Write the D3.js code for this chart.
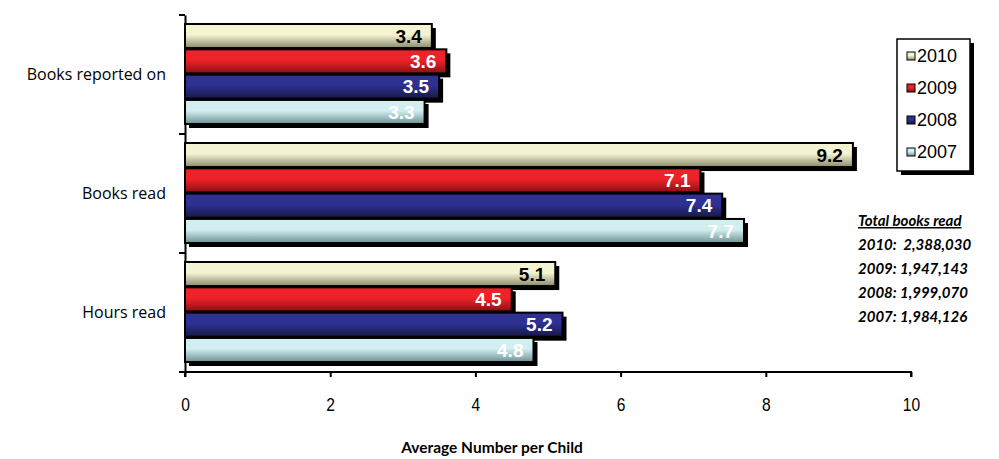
<!DOCTYPE html>
<html><head><meta charset="utf-8">
<script src="https://cdn.jsdelivr.net/npm/d3@7"></script>
<style>body{margin:0;background:#fff}svg{display:block}</style>
</head><body>
<svg id="c" width="999" height="459"></svg>
<script>
const categories = ["Books reported on", "Books read", "Hours read"];
const years = ["2010", "2009", "2008", "2007"];
const v2010 = [3.4, 9.2, 5.1];
const v2009 = [3.6, 7.1, 4.5];
const v2008 = [3.5, 7.4, 5.2];
const v2007 = [3.3, 7.7, 4.8];
const xTicks = [0, 2, 4, 6, 8, 10];
const totalsTitle = "Total books read";
const totals = ["2010:  2,388,030", "2009: 1,947,143", "2008: 1,999,070", "2007: 1,984,126"];
const axisTitle = "Average Number per Child";

(function(){
const series = [v2010, v2009, v2008, v2007];
const colors = [
  {top:"#f4f4d2", bot:"#8a8a6c", text:"#000"},
  {top:"#ee2229", bot:"#8a1014", text:"#fff"},
  {top:"#2e3192", bot:"#161845", text:"#fff"},
  {top:"#d2eef0", bot:"#6c9294", text:"#fff"}
];

const svg = d3.select("#c");
const defs = svg.append("defs");
colors.forEach((c,i)=>{
  const g = defs.append("linearGradient").attr("id","g"+i).attr("x1",0).attr("y1",0).attr("x2",0).attr("y2",1);
  g.append("stop").attr("offset","0%").attr("stop-color",c.top);
  g.append("stop").attr("offset","45%").attr("stop-color",c.top);
  g.append("stop").attr("offset","100%").attr("stop-color",c.bot);
});

const pl = 185, pr = 911, pt = 15, pb = 372;
const x = d3.scaleLinear().domain([0,10]).range([pl,pr]);
const y = d3.scaleBand().domain(categories).range([pt,pb]);
const yi = d3.scaleBand().domain(years).range([9, 109]).paddingInner(0.05);

const xAxis = svg.append("g").attr("transform",`translate(0,${pb})`)
  .call(d3.axisBottom(x).tickValues(xTicks).tickSize(5).tickPadding(21).tickFormat(d3.format("d")));
xAxis.select(".domain").attr("stroke","#000").attr("stroke-width",2).attr("d",`M${pl},5V0H${pr}V5`);
xAxis.selectAll(".tick line").attr("stroke","#000").attr("stroke-width",2);
xAxis.selectAll(".tick text").attr("font-family","Liberation Sans, Arial, sans-serif").attr("font-size",19)
  .attr("fill","#000").attr("transform","scale(0.82,1)");

const yAxis = svg.append("g").attr("transform",`translate(${pl},0)`)
  .call(d3.axisLeft(y).tickSize(0).tickPadding(19));
yAxis.select(".domain").attr("stroke","#000").attr("stroke-width",2);
yAxis.selectAll(".tick text").attr("font-family","'Open Sans', sans-serif").attr("font-size",16).attr("fill","#000");
const bounds = [pt].concat(categories.map(c=>y(c)+y.bandwidth()));
svg.append("g").selectAll("line").data(bounds).join("line")
  .attr("x1",pl-6).attr("x2",pl).attr("y1",d=>d).attr("y2",d=>d)
  .attr("stroke","#000").attr("stroke-width",2);

const gb = svg.append("g");
categories.forEach((cat,ci)=>{
  years.forEach((yr,si)=>{
    const val = series[si][ci];
    const by = y(cat)+yi(yr), bh = yi.bandwidth();
    gb.append("rect").attr("x",x(0)+4).attr("y",by+4).attr("width",x(val)-x(0)).attr("height",bh).attr("fill","#000");
  });
});
categories.forEach((cat,ci)=>{
  years.forEach((yr,si)=>{
    const val = series[si][ci];
    const by = y(cat)+yi(yr), bh = yi.bandwidth();
    gb.append("rect").attr("x",x(0)).attr("y",by).attr("width",x(val)-x(0)).attr("height",bh)
      .attr("fill",`url(#g${si})`).attr("stroke","#000").attr("stroke-width",2);
    gb.append("text").attr("x",x(val)-10).attr("y",by+bh/2).attr("dy","0.36em")
      .attr("text-anchor","end").attr("font-family","Liberation Sans, Arial, sans-serif")
      .attr("font-weight","bold").attr("font-size",19).attr("fill",colors[si].text).text(d3.format(".1f")(val));
  });
});

const lx = 897, ly = 39, lw = 73, lh = 132;
svg.append("rect").attr("x",lx+4).attr("y",ly+4).attr("width",lw).attr("height",lh).attr("fill","#000");
svg.append("rect").attr("x",lx).attr("y",ly).attr("width",lw).attr("height",lh).attr("fill","#fff").attr("stroke","#000").attr("stroke-width",1.5);
years.forEach((yr,i)=>{
  const cy = ly + 17 + i*32;
  svg.append("rect").attr("x",lx+10).attr("y",cy-4).attr("width",8).attr("height",8)
    .attr("fill",`url(#g${i})`).attr("stroke","#000").attr("stroke-width",1);
  svg.append("text").attr("x",lx+20).attr("y",cy).attr("dy","0.36em")
    .attr("font-family","Liberation Sans, Arial, sans-serif").attr("font-size",18).attr("fill","#000").text(yr);
});

const ax = 858;
svg.append("text").attr("x",ax).attr("y",226).attr("font-family","Lato, 'Open Sans', sans-serif")
  .attr("font-weight","bold").attr("font-style","italic").attr("font-size",15).attr("text-decoration","underline")
  .attr("fill","#000").text(totalsTitle);
totals.forEach((t,i)=>{
  svg.append("text").attr("x",ax).attr("y",250+i*24).attr("font-family","Lato, 'Open Sans', sans-serif")
    .attr("font-weight","bold").attr("font-style","italic").attr("font-size",15).attr("xml:space","preserve")
    .attr("fill","#000").text(t);
});

svg.append("text").attr("x",492).attr("y",453).attr("text-anchor","middle")
  .attr("font-family","Lato, 'Open Sans', sans-serif").attr("font-weight","bold").attr("font-size",15.5)
  .attr("fill","#000").text(axisTitle);
})();
</script>
</body></html>
